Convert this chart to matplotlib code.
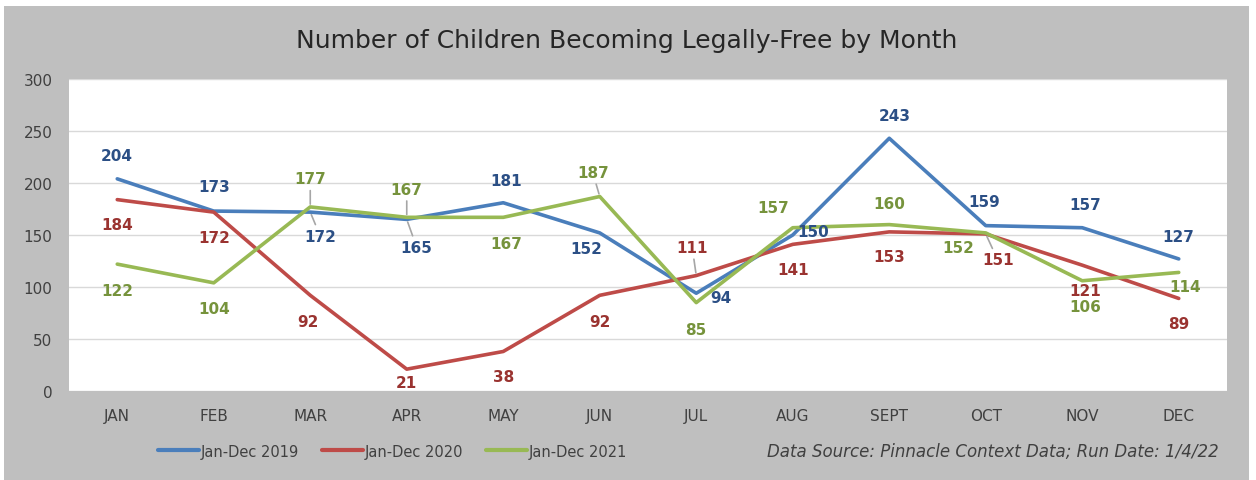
import matplotlib
matplotlib.use("Agg")
import matplotlib.pyplot as plt

months = ["JAN", "FEB", "MAR", "APR", "MAY", "JUN", "JUL", "AUG", "SEPT", "OCT", "NOV", "DEC"]
series_names = ["Jan-Dec 2019", "Jan-Dec 2020", "Jan-Dec 2021"]
v2019 = [204, 173, 172, 165, 181, 152, 94, 150, 243, 159, 157, 127]
v2020 = [184, 172, 92, 21, 38, 92, 111, 141, 153, 151, 121, 89]
v2021 = [122, 104, 177, 167, 167, 187, 85, 157, 160, 152, 106, 114]
yticks = [0, 50, 100, 150, 200, 250, 300]
title = "Number of Children Becoming Legally-Free by Month"
source = "Data Source: Pinnacle Context Data; Run Date: 1/4/22"

line_colors = ["#4A7EBB", "#BE4B48", "#98B954"]
label_colors = ["#2B4F85", "#9A3330", "#76933C"]

# label offsets in pixels (dx, dy) and leader-line flags
off2019 = [(0, 23), (0, 25), (10, -24), (10, -28), (3, 22), (-13, -16), (25, -4), (20, 3), (5, 23), (-2, 24), (3, 23), (0, 22)]
off2020 = [(0, -25), (0, -25), (-2, -26), (0, -13), (0, -25), (0, -26), (-4, 28), (0, -25), (0, -25), (12, -26), (3, -25), (0, -25)]
off2021 = [(0, -26), (0, -26), (0, 28), (0, 28), (3, -26), (-7, 24), (0, -27), (-20, 20), (0, 21), (-28, -15), (3, -26), (6, -14)]
lead2019 = [2, 3]
lead2020 = [6, 9]
lead2021 = [2, 3, 5]

FONT = ["DejaVu Sans"]
plt.rcParams["font.family"] = FONT

W, H = 1256, 481
fig = plt.figure(figsize=(W / 100, H / 100), dpi=100)
fig.patch.set_facecolor("white")
bg = fig.add_axes([4 / W, 0, 1245 / W, 474 / H], zorder=-10)
bg.set_facecolor("#BFBFBF")
bg.set_xticks([])
bg.set_yticks([])
for s in bg.spines.values():
    s.set_visible(False)

ax = fig.add_axes([69 / W, (H - 392) / H, 1158 / W, 312 / H], zorder=1)
ax.set_facecolor("white")
x = list(range(len(months)))
all_vals = [v2019, v2020, v2021]
all_offs = [off2019, off2020, off2021]
all_leads = [lead2019, lead2020, lead2021]

handles = []
for k, vals in enumerate(all_vals):
    h, = ax.plot(x, vals, color=line_colors[k], lw=2.6, solid_joinstyle="round",
                 solid_capstyle="round", zorder=3 + k * 0.1, label=series_names[k])
    handles.append(h)

for k, vals in enumerate(all_vals):
    for i, v in enumerate(vals):
        dx, dy = all_offs[k][i]
        ap = None
        if i in all_leads[k]:
            ap = dict(arrowstyle="-", color="#A6A6A6", lw=1.2, shrinkA=1, shrinkB=2)
        ax.annotate(str(v), xy=(i, v), xytext=(dx, dy), textcoords="offset pixels",
                    ha="center", va="center", fontsize=11, fontweight="bold",
                    color=label_colors[k], arrowprops=ap, zorder=5, annotation_clip=False)

ax.set_xlim(-0.5, 11.5)
ax.set_ylim(0, 300)
ax.set_yticks(yticks)
ax.set_xticks(x)
ax.set_xticklabels(months)
ax.tick_params(axis="both", length=0, labelsize=11, labelcolor="#404040")
ax.tick_params(axis="y", pad=12)
ax.tick_params(axis="x", pad=12)
ax.grid(axis="y", color="#D9D9D9", lw=1)
ax.set_axisbelow(True)
for s in ax.spines.values():
    s.set_visible(False)

fig.text(627 / W, 1 - 41 / H, title, ha="center", va="center", fontsize=18, color="#262626")

leg = fig.legend(handles=handles, loc="center left", bbox_to_anchor=(158 / W, 1 - 452 / H),
                 ncol=3, frameon=False, fontsize=10.5, handlelength=2.8, handletextpad=0.15,
                 columnspacing=1.55, labelcolor="#404040", borderaxespad=0, borderpad=0)
for lh in leg.get_lines():
    lh.set_linewidth(3)

fig.text(1219 / W, 1 - 452 / H, source, ha="right", va="center", fontsize=12,
         style="italic", color="#404040")

fig.savefig("out.png", dpi=100, facecolor=fig.get_facecolor())
